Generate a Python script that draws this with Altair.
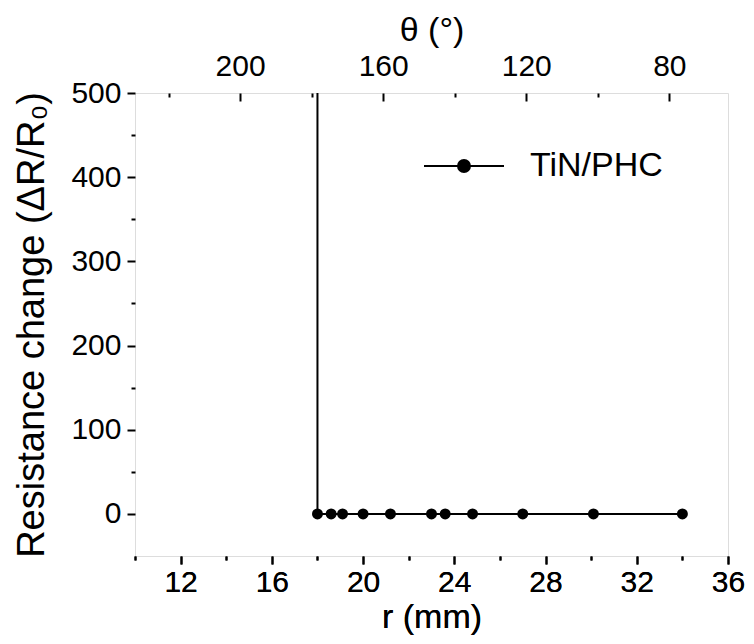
import altair as alt
import pandas as pd

# ---- data ----
r_mm = [18.0, 18.0, 18.6, 19.1, 20.0, 21.2, 23.0, 23.6, 24.8, 27.0, 30.1, 34.0]
resistance = [1000, 0, 0, 0, 0, 0, 0, 0, 0, 0, 0, 0]
series_name = "TiN/PHC"

x_ticks = list(range(10, 37, 2))
y_ticks = list(range(0, 501, 50))
theta_ticks = [220, 200, 180, 160, 140, 120, 100, 80]
x_domain = [10, 36]
y_domain = [-50, 500]
theta_domain = [229.4, 63.6]

FONT = "Liberation Sans"
LABEL_SIZE = 30
TITLE_SIZE = 34

df = pd.DataFrame({
    "idx": list(range(len(r_mm))),
    "r": r_mm,
    "R": resistance,
    "series": [series_name] * len(r_mm),
})
theta_df = pd.DataFrame({"theta": theta_domain})

common_axis = dict(
    labelFont=FONT, titleFont=FONT, labelFontSize=LABEL_SIZE,
    labelColor="black", titleColor="black", tickColor="black", tickWidth=2,
    domain=False, grid=False, titleFontWeight="normal",
)

x_axis = alt.Axis(
    title="r (mm)", values=x_ticks, orient="bottom", titleFontSize=TITLE_SIZE,
    labelExpr="(datum.value - 12) % 4 === 0 ? datum.label : ''",
    tickSize={"condition": {"test": "(datum.value - 12) % 4 === 0", "value": 8}, "value": 4},
    labelPadding=3, titlePadding=3, labelFlush=False,
    **common_axis,
)
y_axis = alt.Axis(
    title="Resistance change (ΔR/R₀)", values=y_ticks, orient="left", titleFontSize=38,
    labelExpr="datum.value % 100 === 0 ? datum.label : ''",
    tickSize={"condition": {"test": "datum.value % 100 === 0", "value": 8}, "value": 4},
    labelPadding=6, titlePadding=19, labelFlush=False,
    **common_axis,
)
top_axis = alt.Axis(
    title="θ (°)", values=theta_ticks, orient="top", offset=-8, tickSize=8, titleFontSize=TITLE_SIZE,
    labelExpr="datum.value % 40 === 0 ? datum.label : ''",
    tickDash={"condition": {"test": "datum.value % 40 === 0", "value": [8, 0]}, "value": [0, 4, 4]},
    labelPadding=12, titlePadding=4, labelFlush=False,
    **common_axis,
)

legend = alt.Legend(
    title=None, orient="none", legendX=288, legendY=32,
    symbolType="M-1,0L1,0M-0.15,0A0.15,0.15,0,1,1,0.15,0A0.15,0.15,0,1,1,-0.15,0Z",
    symbolSize=6400, symbolStrokeWidth=2, symbolFillColor="black", symbolStrokeColor="black",
    labelFont=FONT, labelFontSize=34, labelColor="black", labelOffset=25, padding=0,
)

x_enc = alt.X("r:Q", scale=alt.Scale(domain=x_domain, nice=False, zero=False), axis=x_axis)
y_enc = alt.Y("R:Q", scale=alt.Scale(domain=y_domain, nice=False), axis=y_axis)

line = alt.Chart(df).mark_line(color="black", strokeWidth=2, clip=True).encode(
    x=x_enc, y=y_enc, order=alt.Order("idx:Q"),
    color=alt.Color("series:N", scale=alt.Scale(range=["black"]), legend=legend),
)
points = alt.Chart(df).mark_circle(color="black", size=120, opacity=1, clip=True).encode(
    x=x_enc, y=y_enc,
)
top = alt.Chart(theta_df).mark_point(opacity=0).encode(
    x=alt.X("theta:Q", scale=alt.Scale(domain=theta_domain, nice=False, zero=False), axis=top_axis),
)

chart = alt.layer(line, points, top).resolve_scale(x="independent").properties(
    width=593, height=463,
    autosize=alt.AutoSizeParams(type="none"),
    padding={"left": 127, "top": 85, "right": 18, "bottom": 80},
).configure_view(stroke="black", strokeWidth=2).configure(background="white")

chart.save("out.html", embed_options={"renderer": "svg", "actions": False})
